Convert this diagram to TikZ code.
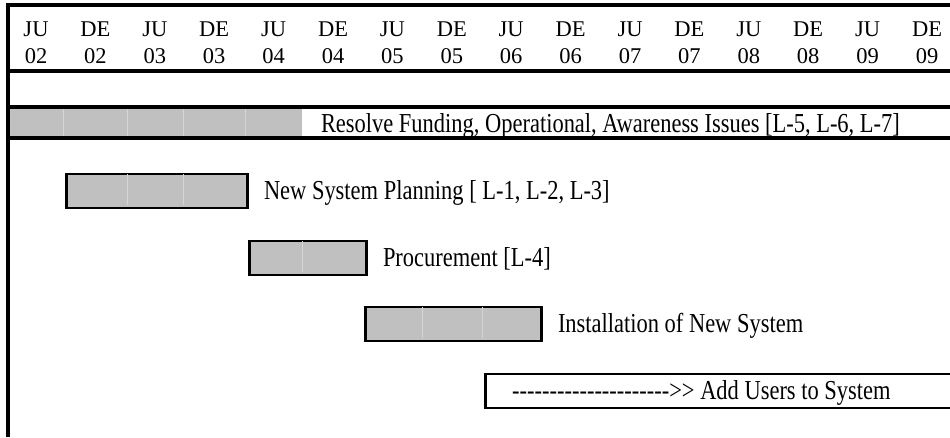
\documentclass[tikz,border=0pt]{standalone}
\usepackage{fontspec}
\newfontfamily\headfont{Liberation Serif}
\newfontfamily\barfont{Liberation Serif}[FakeStretch=0.82]
\usetikzlibrary{positioning}
\definecolor{barfill}{RGB}{192,192,192}
\definecolor{cellline}{RGB}{214,214,214}

\begin{document}
\begin{tikzpicture}[x=1pt,y=-1pt,node distance=15pt,
  rule/.style={line width=3.2pt},
  bar/.style={draw,line width=2.8pt,fill=barfill,inner sep=0pt,minimum height=34pt,anchor=north west},
  cell/.style={draw=cellline,line width=1pt},
  lbl/.style={font=\barfont\fontsize{27.4}{30}\selectfont,inner sep=0pt,text height=18pt,text depth=0pt},
  month/.style={font=\headfont\fontsize{22.5}{27}\selectfont,align=center,inner sep=0pt}]
  \useasboundingbox (0,0) rectangle (950,437);

  % header
  \foreach \m/\yr [count=\i from 0] in {JU/02,DE/02,JU/03,DE/03,JU/04,DE/04,JU/05,DE/05,
      JU/06,DE/06,JU/07,DE/07,JU/08,DE/08,JU/09,DE/09}
    \node[month] (col\i) at ({36+\i*59.4},43) {\m\\\yr};

  % funding row
  \node[bar,draw=none,minimum width=293pt,minimum height=31pt] (fund) at (8,107) {};
  \foreach \x in {63,127,183,245}
    \draw[cell] (\x,107) -- (\x,138);
  \node[lbl,right=17pt of fund] (fundlbl) {Resolve Funding, Operational, Awareness Issues [L-5, L-6, L-7]};

  % frame
  \draw[rule] (8,5) -- (950,5);
  \draw[rule] (8,71) -- (950,71);
  \draw[rule] (8,107) -- (950,107);
  \draw[rule] (8,138) -- (950,138);
  \draw[rule] (8,3.4) -- (8,437);

  % tasks
  \node[bar,minimum width=181pt] (plan) at (65,172.5) {};
  \node[bar,minimum width=117pt] (proc) at (248,239.5) {};
  \node[bar,minimum width=176pt] (inst) at (364,305.5) {};
  \foreach \x in {127,183} \draw[cell] (\x,174) -- (\x,205);
  \draw[cell] (302,241) -- (302,272);
  \foreach \x in {422,482} \draw[cell] (\x,307) -- (\x,338);
  \node[lbl,right=of plan] (planlbl) {New System Planning [ L-1, L-2, L-3]};
  \node[lbl,right=of proc] (proclbl) {Procurement [L-4]};
  \node[lbl,right=of inst] (instlbl) {Installation of New System};

  \node[bar,fill=white,minimum width=470pt,minimum height=34pt] (users) at (484,372.5) {};
  \node[lbl,anchor=west] (userslbl) at ([xshift=28pt]users.west) {--------------------->> Add Users to System};
\end{tikzpicture}
\end{document}
